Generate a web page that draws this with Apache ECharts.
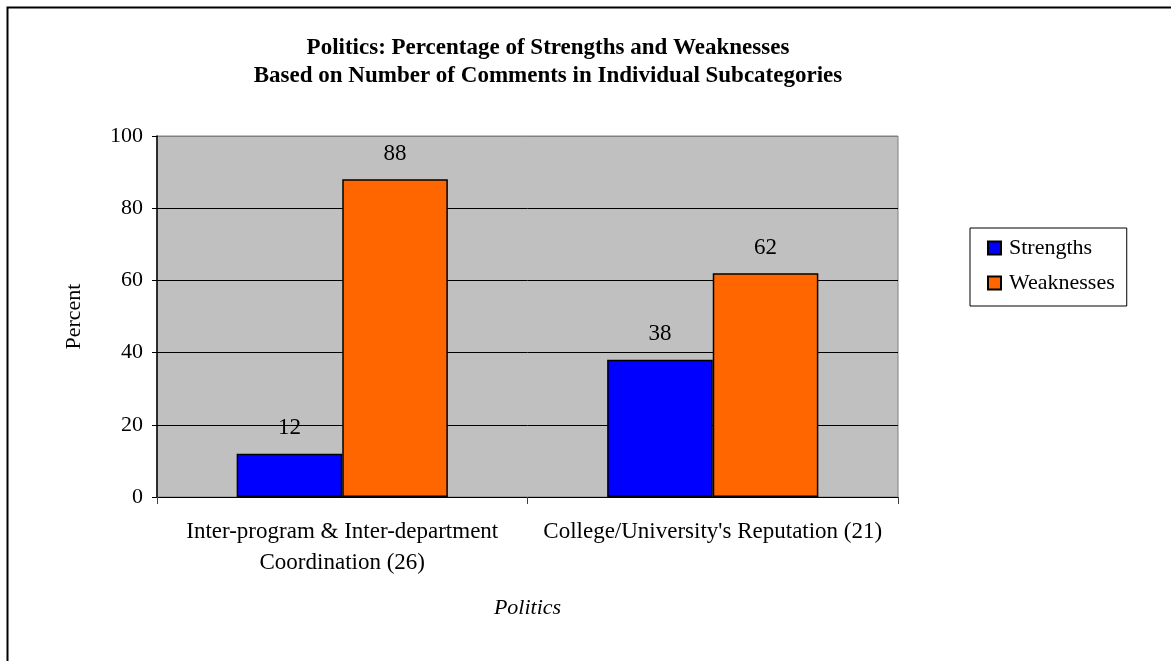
<!DOCTYPE html>
<html>
<head>
<meta charset="utf-8">
<script src="https://cdn.jsdelivr.net/npm/echarts@6/dist/echarts.min.js"></script>
<style>
  html, body { margin: 0; padding: 0; background: #ffffff; }
  #chart { width: 1171px; height: 661px; }
</style>
</head>
<body>
<div id="chart"></div>
<script>
// Category labels (x axis), series names and values in percent
const categories = [
  'Inter-program & Inter-department\nCoordination (26)',
  "College/University's Reputation (21)"
];
const seriesNames = ['Strengths', 'Weaknesses'];
const strengths = [12, 38];
const weaknesses = [88, 62];
const yTicks = [0, 20, 40, 60, 80, 100];

const FONT = '"Liberation Serif", "Times New Roman", serif';

const chart = echarts.init(document.getElementById('chart'), null, { renderer: 'canvas' });

const barStyle = (color) => ({
  color: color,
  borderColor: '#000000',
  borderWidth: 1.5
});

const labelStyle = {
  show: true,
  position: 'top',
  distance: 14,
  color: '#000000',
  fontFamily: FONT,
  fontSize: 23
};

chart.setOption({
  backgroundColor: '#ffffff',
  animation: false,
  title: {
    text: 'Politics: Percentage of Strengths and Weaknesses\nBased on Number of Comments in Individual Subcategories',
    left: 543,
    top: 29,
    textAlign: 'center',
    textStyle: {
      fontFamily: FONT,
      fontWeight: 'bold',
      fontSize: 23,
      lineHeight: 28,
      color: '#000000'
    }
  },
  graphic: [{
    type: 'rect',
    left: 5,
    top: 5,
    silent: true,
    shape: { x: 0, y: 0, width: 1220, height: 720 },
    style: { fill: 'none', stroke: '#000000', lineWidth: 2 }
  }],
  legend: {
    orient: 'vertical',
    left: 970,
    top: 228,
    padding: [9, 12, 12, 17],
    itemGap: 13,
    itemWidth: 13,
    itemHeight: 13,
    icon: 'rect',
    borderColor: '#000000',
    borderWidth: 1,
    backgroundColor: '#ffffff',
    data: seriesNames,
    textStyle: {
      fontFamily: FONT,
      fontSize: 22,
      color: '#000000',
      padding: [0, 0, 0, 3]
    }
  },
  grid: {
    left: 157,
    right: 273,
    top: 136,
    bottom: 164,
    show: true,
    backgroundColor: '#C0C0C0',
    borderColor: '#808080',
    borderWidth: 1
  },
  xAxis: {
    type: 'category',
    data: categories,
    name: 'Politics',
    nameLocation: 'middle',
    nameGap: 100,
    nameTextStyle: {
      fontFamily: FONT,
      fontStyle: 'italic',
      fontSize: 22,
      color: '#000000'
    },
    axisLine: { show: true, lineStyle: { color: '#000000', width: 1 } },
    axisTick: { show: true, length: 7, lineStyle: { color: '#404040', width: 1 } },
    axisLabel: {
      interval: 0,
      margin: 19,
      color: '#000000',
      fontFamily: FONT,
      fontSize: 23,
      lineHeight: 31
    }
  },
  yAxis: {
    type: 'value',
    min: yTicks[0],
    max: yTicks[yTicks.length - 1],
    interval: yTicks[1] - yTicks[0],
    name: 'Percent',
    nameLocation: 'middle',
    nameGap: 72,
    nameRotate: 90,
    nameTextStyle: {
      fontFamily: FONT,
      fontSize: 22,
      color: '#000000'
    },
    axisLine: { show: true, lineStyle: { color: '#000000', width: 1.5 } },
    axisTick: { show: true, length: 5, lineStyle: { color: '#000000', width: 1 } },
    axisLabel: {
      margin: 14,
      color: '#000000',
      fontFamily: FONT,
      fontSize: 22
    },
    splitLine: {
      show: true,
      lineStyle: {
        color: ['#000000', '#000000', '#000000', '#000000', '#000000', '#808080'],
        width: 1
      }
    }
  },
  series: [
    {
      name: seriesNames[0],
      type: 'bar',
      data: strengths,
      barGap: '0%',
      barCategoryGap: '43%',
      itemStyle: barStyle('#0000FF'),
      label: labelStyle
    },
    {
      name: seriesNames[1],
      type: 'bar',
      data: weaknesses,
      barGap: '0%',
      barCategoryGap: '43%',
      itemStyle: barStyle('#FF6600'),
      label: labelStyle
    }
  ]
});
</script>
</body>
</html>
